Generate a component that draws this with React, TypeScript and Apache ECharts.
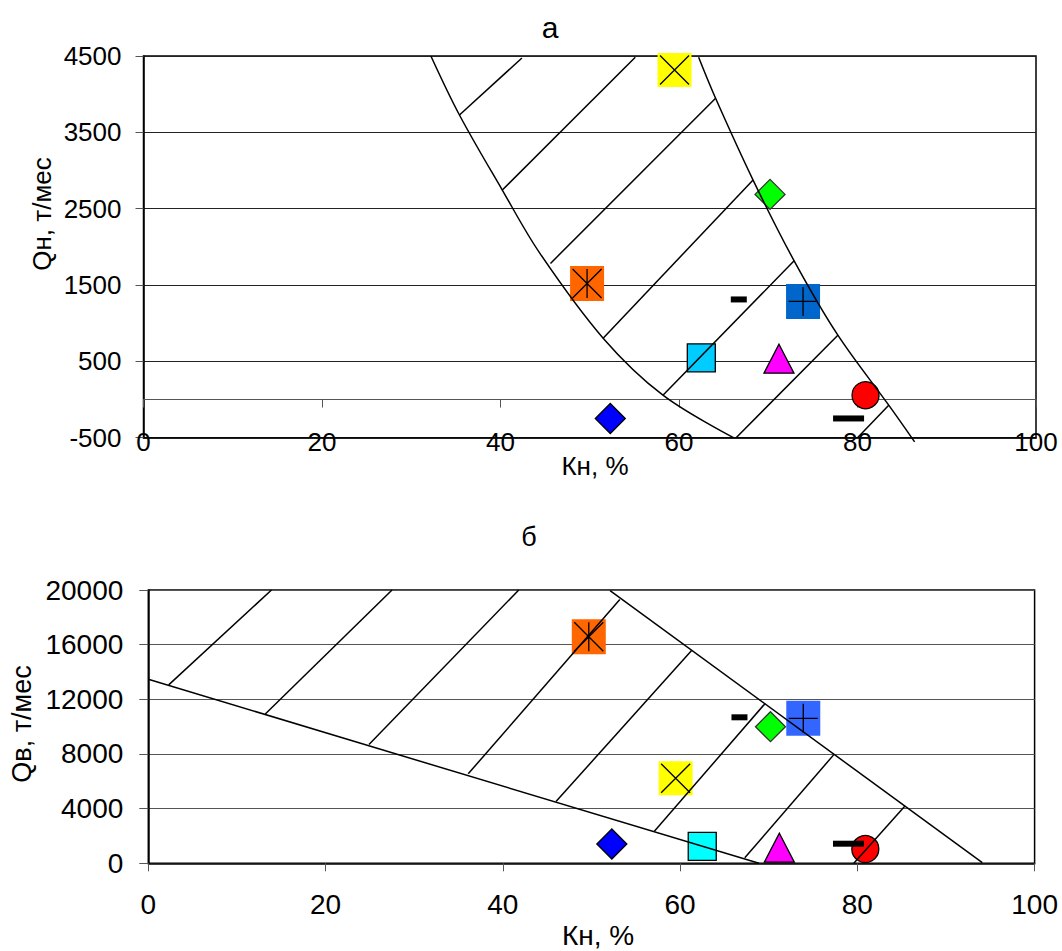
import React, { useEffect, useRef } from "react";
import * as echarts from "echarts";

// ---------- data ----------
// Кн, % of each well (same wells on both panels)
const KN = [59.5, 49.7, 70.2, 73.9, 66.7, 62.5, 71.2, 80.9, 79.0, 52.3];
// panel а: Qн, т/мес
const QN = [4317, 1521, 2687, 1285, 1311, 546, 535, 57, -248, -248];
// panel б: Qв, т/мес
const QV = [6220, 16580, 9996, 10611, 10684, 1244, 1142, 1046, 1434, 1412];

const K_MIN = 0;
const K_MAX = 100;
const K_STEP = 20;
const QN_MIN = -500;
const QN_MAX = 4500;
const QN_STEP = 1000;
const QV_MIN = 0;
const QV_MAX = 20000;
const QV_STEP = 4000;

// panel а: boundaries of the zone and hatching (Кн, Qн)
const A_LEFT = [[32.2, 4500], [35.4, 3727], [40.2, 2744], [44.4, 1918], [51.5, 804], [58.2, 57], [66.1, -500]];
const A_RIGHT = [[62.2, 4483], [64.1, 3946], [68.3, 2875], [72.9, 1817], [77.8, 843], [83.5, -74], [86.4, -555]];
const A_HATCH = [
  [[35.4, 3727], [42.4, 4474]],
  [[40.2, 2744], [55.1, 4483]],
  [[45.6, 1783], [64.1, 3946]],
  [[51.5, 804], [68.3, 2875]],
  [[58.2, 57], [72.9, 1817]],
  [[66.4, -500], [77.8, 843]],
  [[80.0, -500], [83.5, -74]],
];

// panel б: boundaries of the zone and hatching (Кн, Qв)
const B_LOWER = [[0, 13465], [68.9, 0]];
const B_UPPER = [[52.1, 19949], [94.1, 50]];
const B_HATCH = [
  [[2.3, 13060], [13.9, 20000]],
  [[13.2, 10926], [27.5, 20000]],
  [[24.9, 8700], [41.8, 20000]],
  [[36.1, 6550], [53.2, 19300]],
  [[46.0, 4520], [61.3, 15580]],
  [[57.1, 2340], [69.6, 11700]],
  [[67.3, 400], [77.4, 7990]],
  [[79.6, 0], [85.4, 4210]],
];

// ---------- styles ----------
const FONT = "'Liberation Sans', Arial, sans-serif";
const GX = "path://M0,0L10,10M10,0L0,10";
const GAST = "path://M0,0L10,10M10,0L0,10M5,0L5,10";
const GPLUS = "path://M5,0L5,10M0,5L10,5";

type MStyle = { symbol: string; size: number[]; fill: string; stroke?: string; glyph?: string };

const STYLE_A: MStyle[] = [
  { symbol: "rect", size: [34, 34], fill: "#FFFF00", glyph: GX },
  { symbol: "rect", size: [34, 35], fill: "#FF6600", glyph: GAST },
  { symbol: "diamond", size: [30, 30], fill: "#00FF00", stroke: "#333" },
  { symbol: "rect", size: [34, 35], fill: "#0066CC", glyph: GPLUS },
  { symbol: "rect", size: [16, 6], fill: "#000" },
  { symbol: "rect", size: [28, 28], fill: "#00CCFF", stroke: "#000" },
  { symbol: "triangle", size: [30, 29], fill: "#FF00FF", stroke: "#000" },
  { symbol: "circle", size: [27, 27], fill: "#FF0000", stroke: "#000" },
  { symbol: "rect", size: [31, 6], fill: "#000" },
  { symbol: "diamond", size: [30, 30], fill: "#0000FF", stroke: "#000" },
];
const STYLE_B: MStyle[] = STYLE_A.map((s, i) =>
  i === 3 ? { ...s, fill: "#3366FF" } : i === 5 ? { ...s, fill: "#00FFFF" } : s
);

function markerSeries(axisIdx: number, qs: number[], styles: MStyle[]) {
  const out: any[] = [];
  qs.forEach((q, i) => {
    const st = styles[i];
    out.push({
      type: "scatter",
      xAxisIndex: axisIdx === 0 ? 0 : 2,
      yAxisIndex: axisIdx,
      silent: true,
      z: 2,
      symbol: st.symbol,
      symbolSize: st.size,
      itemStyle: {
        color: st.fill,
        borderColor: st.stroke || st.fill,
        borderWidth: st.stroke ? 1.3 : 0,
        opacity: 1,
      },
      data: [[KN[i], q]],
    });
    if (st.glyph) {
      out.push({
        type: "scatter",
        xAxisIndex: axisIdx === 0 ? 0 : 2,
        yAxisIndex: axisIdx,
        silent: true,
        z: 3,
        symbol: st.glyph,
        symbolSize: [29, 29],
        itemStyle: { color: "rgba(0,0,0,0)", borderColor: "#000", borderWidth: 1.3, opacity: 1 },
        data: [[KN[i], q]],
      });
    }
  });
  return out;
}

function lineSeries(axisIdx: number, pts: number[][], smooth: number | boolean) {
  return {
    type: "line",
    xAxisIndex: axisIdx === 0 ? 0 : 2,
    yAxisIndex: axisIdx,
    silent: true,
    clip: false,
    z: 4,
    symbol: "none",
    smooth,
    lineStyle: { color: "#000", width: 1.5 },
    data: pts,
  };
}

const plain = (v: number) => String(v);

function buildOption(): any {
  const labelA = { color: "#000", fontSize: 26, fontFamily: FONT, formatter: plain };
  const labelB = { color: "#000", fontSize: 28, fontFamily: FONT, formatter: plain };
  const series: any[] = [
    ...markerSeries(0, QN, STYLE_A),
    ...markerSeries(1, QV, STYLE_B),
    lineSeries(0, A_LEFT, 0.35),
    lineSeries(0, A_RIGHT, 0.35),
    ...A_HATCH.map((h) => lineSeries(0, h, false)),
    lineSeries(1, B_LOWER, false),
    lineSeries(1, B_UPPER, false),
    ...B_HATCH.map((h) => lineSeries(1, h, false)),
  ];
  const txt = (text: string, x: number, y: number, size: number, rot = 0) => ({
    type: "text",
    x,
    y,
    rotation: rot,
    style: { text, fontSize: size, fontFamily: FONT, fill: "#000", align: "center", verticalAlign: "middle" },
  });
  return {
    animation: false,
    backgroundColor: "#fff",
    textStyle: { fontFamily: FONT },
    grid: [
      { left: 143.5, top: 56, width: 892.5, height: 381.7, show: true, borderColor: "#000", borderWidth: 1.5, containLabel: false },
      { left: 148.3, top: 590, width: 886.3, height: 273.3, show: true, borderColor: "#000", borderWidth: 1.5, containLabel: false },
    ],
    xAxis: [
      {
        type: "value", gridIndex: 0, min: K_MIN, max: K_MAX, interval: K_STEP, position: "bottom",
        axisLine: { show: true, onZero: false, lineStyle: { color: "#000", width: 1.5 } },
        axisTick: { show: false },
        axisLabel: { ...labelA, margin: -9 },
        splitLine: { show: false },
      },
      {
        type: "value", gridIndex: 0, min: K_MIN, max: K_MAX, interval: K_STEP, position: "bottom",
        axisLine: { show: true, onZero: true, lineStyle: { color: "#555", width: 1 } },
        axisTick: { show: true, length: 8, lineStyle: { color: "#555", width: 1 } },
        axisLabel: { show: false },
        splitLine: { show: false },
      },
      {
        type: "value", gridIndex: 1, min: K_MIN, max: K_MAX, interval: K_STEP, position: "bottom",
        axisLine: { show: true, onZero: false, lineStyle: { color: "#000", width: 1.5 } },
        axisTick: { show: true, length: 8, lineStyle: { color: "#555", width: 1 } },
        axisLabel: { ...labelB, margin: 27 },
        splitLine: { show: false },
      },
    ],
    yAxis: [
      {
        type: "value", gridIndex: 0, min: QN_MIN, max: QN_MAX, interval: QN_STEP,
        axisLine: { show: true, onZero: false, lineStyle: { color: "#000", width: 1.5 } },
        axisTick: { show: true, length: 8, lineStyle: { color: "#555", width: 1 } },
        axisLabel: { ...labelA, margin: 22 },
        splitLine: { show: true, lineStyle: { color: "#222", width: 1 } },
      },
      {
        type: "value", gridIndex: 1, min: QV_MIN, max: QV_MAX, interval: QV_STEP,
        axisLine: { show: true, onZero: false, lineStyle: { color: "#000", width: 1.5 } },
        axisTick: { show: true, length: 9, lineStyle: { color: "#555", width: 1 } },
        axisLabel: { ...labelB, margin: 25 },
        splitLine: { show: true, lineStyle: { color: "#555", width: 1 } },
      },
    ],
    graphic: [
      txt("а", 550, 27, 30),
      txt("б", 529, 537, 27),
      txt("Кн, %", 595, 466, 26),
      txt("Кн, %", 598, 935, 28),
      txt("Qн, т/мес", 42, 214, 26, Math.PI / 2),
      txt("Qв, т/мес", 22, 724, 27, Math.PI / 2),
    ],
    series,
  };
}

export default function App() {
  const ref = useRef<HTMLDivElement>(null);
  useEffect(() => {
    if (!ref.current) return;
    const chart = echarts.init(ref.current, null, { renderer: "svg" });
    chart.setOption(buildOption());
    return () => chart.dispose();
  }, []);
  return (
    <div
      ref={ref}
      style={{ position: "fixed", left: 0, top: 0, width: 1062, height: 951, background: "#fff" }}
    />
  );
}
